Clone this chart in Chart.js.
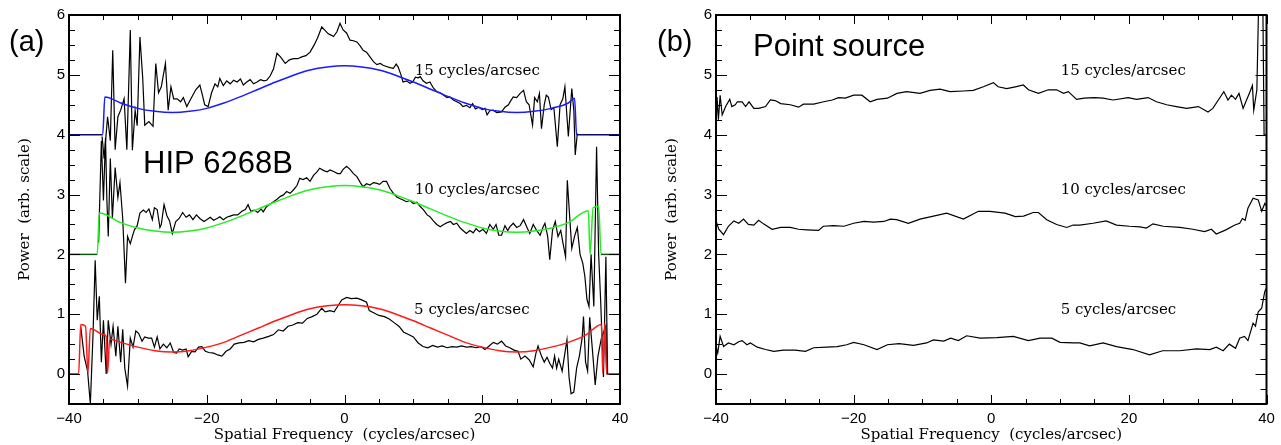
<!DOCTYPE html>
<html>
<head>
<meta charset="utf-8">
<script src="https://cdn.jsdelivr.net/npm/chart.js@4.4.1/dist/chart.umd.min.js"></script>
<style>
  body { margin: 0; background: #fff; }
  #wrap { position: relative; width: 1281px; height: 445px; }
  canvas { position: absolute; top: 0; }
  #chartA { left: 0; }
  #chartB { left: 640px; }
</style>
</head>
<body>
<div id="wrap">
  <canvas id="chartA" width="640" height="445"></canvas>
  <canvas id="chartB" width="641" height="445"></canvas>
</div>
<script>
// axis ticks
const xTickLabels = [-40, -20, 0, 20, 40];
const yTickLabels = [0, 1, 2, 3, 4, 5, 6];

// (a) model curves, freq (cycles/arcsec) and power
const blueFreq = [-40, -35.1, -34.8, -32.5, -30, -27.5, -25, -22.5, -20, -17.5, -15, -12.5, -10, -7.5, -5, -2.5, 0,
  2.5, 5, 7.5, 10, 12.5, 15, 17.5, 20, 22.5, 25, 27.5, 30, 32.5, 33.4, 33.7, 40];
const bluePower = [4, 4, 4.63, 4.53, 4.44, 4.39, 4.37, 4.39, 4.44, 4.53, 4.64, 4.76, 4.88, 4.99, 5.08, 5.13, 5.15,
  5.13, 5.08, 4.99, 4.88, 4.76, 4.64, 4.53, 4.44, 4.39, 4.37, 4.39, 4.44, 4.53, 4.61, 4, 4];

const greenFreq = [-40, -35.9, -35.6, -32.5, -30, -27.5, -25, -22.5, -20, -17.5, -15, -12.5, -10, -7.5, -5, -2.5, 0,
  2.5, 5, 7.5, 10, 12.5, 15, 17.5, 20, 22.5, 25, 27.5, 30, 32.5, 35.4, 35.65, 36.1, 36.9, 37.25, 40];
const greenPower = [2, 2, 2.69, 2.53, 2.44, 2.39, 2.37, 2.39, 2.44, 2.53, 2.64, 2.76, 2.88, 2.99, 3.08, 3.13, 3.15,
  3.13, 3.08, 2.99, 2.88, 2.76, 2.64, 2.53, 2.44, 2.39, 2.37, 2.39, 2.44, 2.53, 2.73, 2.0, 2.78, 2.80, 2.0, 2.0];

const redFreq = [-40, -38.6, -38.3, -37.6, -37.25, -36.9, -35, -34.6, -34.4, -34.1, -32.5, -30, -27.5, -25, -22.5,
  -20, -17.5, -15, -12.5, -10, -7.5, -5, -2.5, 0, 2.5, 5, 7.5, 10, 12.5, 15, 17.5, 20, 22.5, 25, 27.5, 30, 32.5, 35,
  37.3, 37.5, 37.8, 38.05, 40];
const redPower = [0, 0, 0.83, 0.80, 0.02, 0.76, 0.66, 0.63, 0.02, 0.58, 0.53, 0.45, 0.39, 0.37, 0.39,
  0.45, 0.53, 0.65, 0.77, 0.89, 1.0, 1.09, 1.14, 1.16, 1.14, 1.09, 1.0, 0.89, 0.77, 0.65, 0.53, 0.45, 0.39, 0.37, 0.39, 0.45, 0.53, 0.65,
  0.83, 0.02, 0.85, 0.0, 0];

// (a) HIP 6268B measured power, [freq, power]
const hip15 = [[-35.2, 3.97], [-34.9, 3.6], [-34.4, 4.3], [-34.0, 3.9], [-33.65, 5.41], [-33.3, 3.75], [-32.9, 4.3],
  [-32.5, 4.41], [-32.0, 4.6], [-31.6, 3.75], [-31.1, 5.75], [-30.8, 3.74], [-30.4, 4.41], [-30.1, 4.15], [-29.7, 5.63],
  [-29.3, 4.95], [-29.0, 4.16], [-28.4, 4.22], [-27.8, 4.14], [-27.4, 5.19], [-27.0, 4.70], [-26.6, 4.80], [-26.0, 5.19],
  [-25.6, 4.41], [-25.2, 4.80], [-24.8, 4.60], [-24.3, 4.60], [-23.8, 4.55], [-23.4, 4.62], [-22.9, 4.47], [-22.3, 4.60],
  [-21.6, 4.75], [-21.0, 4.83], [-20.6, 4.65], [-20.3, 4.50], [-19.8, 4.47], [-19.3, 4.70], [-18.8, 4.85], [-18.4, 4.80],
  [-18.1, 4.94], [-17.6, 4.82], [-17.1, 4.90], [-16.6, 4.85], [-16.1, 4.91], [-15.6, 4.88], [-15.1, 4.93], [-14.7, 4.83],
  [-14.2, 4.88], [-13.7, 4.92], [-13.2, 4.85], [-12.7, 4.88], [-12.2, 4.92], [-11.7, 4.90], [-11.3, 4.91], [-10.8, 4.98],
  [-10.3, 5.10], [-9.8, 5.36], [-9.3, 5.30], [-8.6, 5.19], [-8.0, 5.25], [-7.4, 5.27], [-6.8, 5.27], [-6.2, 5.30],
  [-5.6, 5.32], [-5.0, 5.38], [-4.4, 5.50], [-3.9, 5.62], [-3.3, 5.80], [-2.9, 5.75], [-2.4, 5.69], [-1.9, 5.66],
  [-1.6, 5.64], [-1.1, 5.72], [-0.65, 5.86], [-0.2, 5.75], [0.3, 5.70], [0.8, 5.58], [1.3, 5.57], [1.8, 5.55],
  [2.3, 5.48], [2.7, 5.41], [3.2, 5.38], [3.7, 5.30], [4.2, 5.22], [4.7, 5.17], [5.2, 5.19], [5.6, 5.16], [6.1, 5.14],
  [6.6, 5.12], [7.1, 5.11], [7.5, 5.18], [7.8, 5.13], [8.2, 5.00], [8.5, 4.88], [9.0, 4.90], [9.5, 4.86], [9.9, 4.88],
  [10.3, 4.96], [10.7, 4.95], [11.0, 4.97], [11.4, 4.90], [11.9, 4.86], [12.4, 4.88], [12.9, 4.78], [13.4, 4.72],
  [13.9, 4.70], [14.4, 4.66], [14.9, 4.62], [15.3, 4.63], [15.8, 4.58], [16.3, 4.55], [16.8, 4.52], [17.2, 4.47],
  [17.7, 4.49], [18.2, 4.45], [18.6, 4.52], [19.0, 4.43], [19.5, 4.46], [20.0, 4.42], [20.4, 4.44], [20.7, 4.33],
  [21.1, 4.40], [21.6, 4.41], [22.1, 4.37], [22.8, 4.38], [23.3, 4.46], [23.8, 4.50], [24.1, 4.56], [24.5, 4.63],
  [25.0, 4.62], [25.5, 4.69], [26.0, 4.74], [26.4, 4.55], [26.8, 4.50], [27.3, 4.16], [27.6, 4.62], [28.0, 4.55],
  [28.3, 4.69], [28.6, 4.10], [29.0, 4.50], [29.3, 4.66], [29.6, 4.63], [30.0, 4.42], [30.4, 4.45], [30.9, 3.80],
  [31.3, 4.50], [31.7, 4.60], [32.0, 4.80], [32.3, 4.30], [32.5, 3.97], [33.0, 4.77], [33.3, 4.40], [33.5, 3.66], [33.8, 4.02]];

const hip10 = [[-35.7, 2.2], [-35.3, 3.9], [-35.0, 2.9], [-34.7, 3.95], [-34.5, 2.9], [-34.3, 2.3], [-34.0, 3.6],
  [-33.7, 2.6], [-33.3, 3.45], [-32.9, 2.95], [-32.6, 3.2], [-32.2, 2.6], [-31.8, 1.52], [-31.5, 2.30], [-31.1, 2.18],
  [-30.8, 2.3], [-30.5, 2.41], [-30.1, 2.48], [-29.7, 2.69], [-29.2, 2.74], [-28.8, 2.70], [-28.4, 2.76], [-27.9, 2.58],
  [-27.6, 2.78], [-27.2, 2.75], [-26.8, 2.45], [-26.6, 2.5], [-26.2, 2.83], [-25.8, 2.65], [-25.4, 2.56], [-25.0, 2.35],
  [-24.5, 2.55], [-24.0, 2.6], [-23.5, 2.70], [-23.0, 2.62], [-22.5, 2.66], [-22.0, 2.58], [-21.5, 2.66], [-21.0, 2.60],
  [-20.4, 2.55], [-20.0, 2.58], [-19.5, 2.62], [-19.0, 2.57], [-18.5, 2.60], [-18.1, 2.63], [-17.6, 2.58], [-17.1, 2.62],
  [-16.6, 2.64], [-16.1, 2.66], [-15.5, 2.66], [-14.9, 2.72], [-14.4, 2.75], [-14.0, 2.83], [-13.6, 2.72], [-13.1, 2.74],
  [-12.6, 2.70], [-12.1, 2.76], [-11.8, 2.71], [-11.3, 2.80], [-10.8, 2.84], [-10.3, 2.88], [-9.8, 2.92], [-9.3, 2.97],
  [-8.9, 2.99], [-8.4, 3.05], [-7.9, 3.02], [-7.4, 3.08], [-6.9, 3.15], [-6.5, 3.27], [-6.0, 3.25], [-5.5, 3.28],
  [-5.0, 3.22], [-4.5, 3.32], [-4.0, 3.38], [-3.6, 3.44], [-3.0, 3.40], [-2.5, 3.38], [-2.1, 3.41], [-1.5, 3.38],
  [-1.0, 3.35], [-0.6, 3.35], [-0.2, 3.42], [0.3, 3.47], [0.8, 3.42], [1.3, 3.35], [1.8, 3.30], [2.3, 3.20], [2.7, 3.13],
  [3.2, 3.18], [3.7, 3.16], [4.2, 3.20], [4.6, 3.19], [5.1, 3.17], [5.6, 3.22], [6.1, 3.22], [6.6, 3.10], [7.1, 3.02],
  [7.6, 2.96], [8.1, 2.93], [8.5, 2.91], [9.0, 2.88], [9.5, 2.90], [10.0, 2.85], [10.5, 2.87], [11.0, 2.80], [11.5, 2.74],
  [12.0, 2.66], [12.4, 2.63], [12.9, 2.56], [13.4, 2.50], [13.9, 2.46], [14.4, 2.50], [14.9, 2.53], [15.4, 2.55],
  [15.8, 2.50], [16.3, 2.52], [16.8, 2.44], [17.2, 2.40], [17.7, 2.35], [18.2, 2.40], [18.7, 2.36], [19.1, 2.43],
  [19.6, 2.38], [20.1, 2.42], [20.6, 2.35], [21.1, 2.50], [21.6, 2.42], [22.0, 2.50], [22.4, 2.32], [22.8, 2.32],
  [23.3, 2.48], [23.7, 2.40], [24.0, 2.46], [24.5, 2.52], [25.0, 2.45], [25.5, 2.48], [26.0, 2.58], [26.5, 2.45],
  [26.9, 2.35], [27.4, 2.50], [27.9, 2.40], [28.4, 2.32], [28.8, 2.45], [29.1, 2.52], [29.5, 2.30], [29.8, 1.91],
  [30.2, 2.40], [30.6, 2.55], [31.0, 2.30], [31.4, 2.40], [31.7, 2.20], [32.1, 1.96], [32.35, 3.24], [32.7, 2.62],
  [33.0, 2.10], [33.4, 2.30], [33.8, 2.45], [34.2, 2.00], [34.6, 1.85], [34.9, 1.63], [35.2, 1.25], [35.5, 1.13],
  [35.8, 2.00], [36.2, 1.13], [36.6, 3.80], [36.9, 2.00], [37.2, 1.2], [37.6, -0.05], [37.95, 1.96], [38.2, 0.0]];

const hip5 = [[-38.3, 0.8], [-37.8, 0.3], [-37.3, 0.05], [-36.9, -0.5], [-36.5, 0.7], [-36.2, 1.9], [-35.9, 0.9],
  [-35.6, 1.3], [-35.3, 0.2], [-35.0, 0.9], [-34.6, 0.0], [-34.3, 0.9], [-33.9, 0.5], [-33.6, 0.8], [-33.2, 0.3],
  [-32.9, 0.8], [-32.5, 0.2], [-32.2, 0.75], [-31.9, 0.1], [-31.5, -0.2], [-31.1, 0.6], [-30.7, 0.45], [-30.3, 0.72],
  [-29.9, 0.68], [-29.4, 0.55], [-29.0, 0.62], [-28.5, 0.6], [-28.0, 0.6], [-27.6, 0.45], [-27.2, 0.62], [-26.8, 0.42],
  [-26.3, 0.5], [-25.8, 0.44], [-25.3, 0.52], [-24.8, 0.36], [-24.4, 0.35], [-24.0, 0.42], [-23.5, 0.40], [-23.0, 0.42],
  [-22.7, 0.29], [-22.2, 0.38], [-21.7, 0.37], [-21.2, 0.45], [-20.7, 0.46], [-20.2, 0.38], [-19.7, 0.36], [-19.0, 0.35],
  [-18.4, 0.32], [-17.8, 0.30], [-17.2, 0.38], [-16.6, 0.42], [-16.0, 0.5], [-15.3, 0.52], [-14.6, 0.53], [-13.9, 0.56],
  [-13.2, 0.54], [-12.5, 0.58], [-11.8, 0.60], [-11.0, 0.63], [-10.3, 0.66], [-9.6, 0.74], [-8.9, 0.72], [-8.2, 0.80],
  [-7.5, 0.82], [-6.8, 0.86], [-6.1, 0.85], [-5.4, 0.93], [-4.7, 0.96], [-4.0, 1.0], [-3.3, 1.10], [-2.8, 1.04],
  [-2.1, 1.06], [-1.5, 1.04], [-0.9, 1.15], [-0.4, 1.24], [0.3, 1.28], [1.0, 1.26], [1.8, 1.27], [2.5, 1.24], [3.2, 1.20],
  [3.6, 1.06], [4.3, 1.02], [5.0, 0.98], [5.8, 0.96], [6.5, 0.92], [7.2, 0.86], [7.9, 0.80], [8.6, 0.70], [9.3, 0.66],
  [10.0, 0.62], [10.7, 0.52], [11.4, 0.46], [12.1, 0.44], [12.8, 0.48], [13.5, 0.45], [14.2, 0.47], [14.9, 0.44],
  [15.6, 0.46], [16.3, 0.45], [17.0, 0.47], [17.7, 0.45], [18.4, 0.46], [19.1, 0.44], [19.8, 0.46], [20.4, 0.41],
  [21.0, 0.47], [21.6, 0.53], [22.2, 0.50], [22.8, 0.55], [23.4, 0.47], [24.0, 0.44], [24.6, 0.40], [25.2, 0.38],
  [25.6, 0.25], [26.2, 0.30], [26.8, 0.24], [27.4, 0.12], [27.8, 0.35], [28.1, 0.47], [28.6, 0.30], [29.0, 0.20],
  [29.4, 0.28], [29.8, 0.18], [30.2, 0.10], [30.5, 0.30], [30.8, 0.10], [31.1, 0.25], [31.6, 0.05], [32.0, 0.35],
  [32.3, 0.57], [32.6, -0.05], [32.9, -0.33], [33.3, -0.30], [33.7, 0.10], [34.1, 0.30], [34.5, 0.6], [34.7, 0.96],
  [35.0, 0.2], [35.3, 0.05], [35.6, 0.95], [36.0, 0.4], [36.4, -0.18], [36.8, 0.3], [37.3, 0.6], [37.95, 0.8], [38.1, 0.0]];

// (b) point source measured power, [freq, power]
const psf15 = [[-40.1, 3.74], [-39.85, 4.63], [-39.65, 4.25], [-39.4, 4.66], [-39.1, 4.33], [-38.6, 4.47], [-38.0, 4.59],
  [-37.7, 4.47], [-37.2, 4.50], [-36.9, 4.55], [-36.2, 4.55], [-35.7, 4.47], [-35.2, 4.55], [-34.5, 4.44], [-33.8, 4.44],
  [-32.8, 4.47], [-32.1, 4.58], [-31.4, 4.57], [-30.6, 4.52], [-29.2, 4.50], [-28.0, 4.46], [-27.3, 4.51], [-25.8, 4.51],
  [-24.35, 4.55], [-23.1, 4.58], [-22.2, 4.62], [-21.2, 4.61], [-20.0, 4.66], [-18.8, 4.66], [-17.6, 4.55], [-16.6, 4.59],
  [-15.1, 4.61], [-13.7, 4.69], [-12.3, 4.72], [-10.35, 4.69], [-8.9, 4.74], [-7.44, 4.76], [-6.0, 4.72], [-4.05, 4.73],
  [-2.6, 4.74], [-1.15, 4.80], [0.31, 4.87], [1.0, 4.80], [2.25, 4.77], [3.5, 4.80], [4.67, 4.83], [5.4, 4.75],
  [6.85, 4.69], [8.3, 4.75], [9.5, 4.75], [10.5, 4.69], [11.2, 4.72], [12.4, 4.59], [13.5, 4.61], [15.0, 4.62],
  [16.25, 4.61], [17.7, 4.58], [19.9, 4.62], [21.1, 4.59], [22.8, 4.62], [24.0, 4.55], [25.5, 4.50], [26.9, 4.47],
  [28.4, 4.44], [30.1, 4.47], [31.5, 4.38], [32.2, 4.44], [33.0, 4.58], [33.8, 4.72], [34.4, 4.58], [34.9, 4.66],
  [35.5, 4.59], [36.0, 4.69], [36.6, 4.44], [37.1, 4.58], [37.5, 4.69], [37.95, 4.82], [38.15, 4.41], [38.6, 4.75],
  [39.0, 7.0], [39.4, 7.0], [39.65, 3.99], [39.9, 4.0]];

const psf10 = [[-40.1, 2.60], [-39.6, 2.42], [-38.9, 2.33], [-38.2, 2.47], [-37.4, 2.56], [-36.7, 2.52], [-36.0, 2.59],
  [-35.3, 2.50], [-34.5, 2.49], [-33.8, 2.57], [-33.1, 2.51], [-31.85, 2.42], [-30.6, 2.45], [-29.2, 2.45], [-28.0, 2.42],
  [-26.8, 2.41], [-25.1, 2.40], [-24.4, 2.47], [-22.9, 2.48], [-21.4, 2.47], [-20.0, 2.52], [-18.5, 2.55], [-17.1, 2.54],
  [-15.6, 2.55], [-14.65, 2.59], [-13.74, 2.58], [-12.05, 2.52], [-10.35, 2.59], [-8.4, 2.64], [-6.47, 2.69], [-4.05, 2.59],
  [-1.87, 2.72], [-0.2, 2.72], [2.0, 2.69], [3.5, 2.63], [4.7, 2.64], [6.1, 2.70], [6.85, 2.70], [8.06, 2.58], [9.5, 2.50],
  [10.97, 2.45], [11.9, 2.49], [12.86, 2.49], [14.8, 2.52], [16.7, 2.56], [18.2, 2.49], [20.1, 2.47], [21.6, 2.46],
  [22.55, 2.44], [23.5, 2.51], [25.0, 2.47], [27.4, 2.45], [29.3, 2.42], [31.0, 2.38], [32.0, 2.42], [32.7, 2.34],
  [34.1, 2.41], [35.4, 2.49], [36.1, 2.52], [36.5, 2.60], [36.9, 2.57], [37.3, 2.77], [38.05, 2.94], [38.8, 2.91],
  [39.3, 2.72], [39.75, 2.85], [40.1, 2.80]];

const psf5 = [[-40.1, 0.52], [-39.75, 0.35], [-39.4, 0.63], [-38.9, 0.46], [-38.2, 0.52], [-37.4, 0.49], [-36.7, 0.54],
  [-36.2, 0.56], [-35.5, 0.49], [-35.0, 0.52], [-34.0, 0.45], [-32.8, 0.41], [-31.6, 0.38], [-30.2, 0.40], [-28.5, 0.40],
  [-27.0, 0.38], [-25.8, 0.44], [-23.9, 0.45], [-22.4, 0.46], [-21.0, 0.49], [-20.0, 0.53], [-18.5, 0.49], [-16.6, 0.41],
  [-15.1, 0.49], [-13.4, 0.51], [-11.3, 0.48], [-9.4, 0.52], [-8.4, 0.57], [-6.9, 0.55], [-5.9, 0.60], [-4.78, 0.56],
  [-3.57, 0.64], [-1.6, 0.60], [0.8, 0.61], [3.2, 0.63], [5.4, 0.56], [7.1, 0.60], [8.8, 0.60], [10.0, 0.53],
  [11.94, 0.52], [12.86, 0.52], [14.3, 0.47], [16.25, 0.52], [18.2, 0.46], [20.6, 0.41], [23.0, 0.32], [24.9, 0.39],
  [27.4, 0.39], [29.8, 0.42], [31.75, 0.41], [32.7, 0.45], [33.7, 0.39], [34.6, 0.50], [35.5, 0.43], [36.1, 0.60],
  [36.8, 0.63], [37.3, 0.56], [38.05, 0.85], [38.4, 0.80], [38.8, 1.04], [39.3, 1.10], [39.75, 1.38], [40.1, 1.46]];

const labelFont = "'Liberation Sans', Arial, sans-serif";
const serifFont = "'DejaVu Serif', serif";

function pairs(list) {
  return list.map(p => ({ x: p[0], y: p[1] }));
}
function zip(xs, ys) {
  return xs.map((x, i) => ({ x: x, y: ys[i] }));
}

function modelSet(xs, ys, color, dark, base) {
  return {
    data: zip(xs, ys),
    borderColor: color,
    borderWidth: 1.5,
    pointRadius: 0,
    cubicInterpolationMode: 'monotone',
    segment: {
      borderColor: c => (c.p0.parsed.y === base && c.p1.parsed.y === base) ? dark : color
    }
  };
}
function dataSet(list) {
  return { data: pairs(list), borderColor: '#000', borderWidth: 1.2, pointRadius: 0, tension: 0 };
}

// box, inward ticks on all four sides
const frameTicks = {
  id: 'frameTicks',
  afterDatasetsDraw(chart) {
    const ctx = chart.ctx;
    const a = chart.chartArea;
    const xs = chart.scales.x, ys = chart.scales.y;
    ctx.save();
    ctx.strokeStyle = '#000';
    ctx.lineWidth = 1;
    ctx.beginPath();
    for (let v = -40; v <= 40; v += 5) {
      const px = Math.round(xs.getPixelForValue(v)) + 0.5;
      const len = v % 20 === 0 ? 9 : 5;
      ctx.moveTo(px, a.bottom); ctx.lineTo(px, a.bottom - len);
      ctx.moveTo(px, a.top); ctx.lineTo(px, a.top + len);
    }
    for (let v = -0.5; v <= 6; v += 0.25) {
      const py = Math.round(ys.getPixelForValue(v)) + 0.5;
      const len = Number.isInteger(v) ? 11 : 6;
      ctx.moveTo(a.left, py); ctx.lineTo(a.left + len, py);
      ctx.moveTo(a.right, py); ctx.lineTo(a.right - len, py);
    }
    ctx.stroke();
    ctx.lineWidth = 2;
    ctx.strokeRect(a.left, a.top, a.right - a.left, a.bottom - a.top);
    ctx.restore();
  }
};

// free text: either in data units (x,y) or canvas pixels (px,py)
const notes = {
  id: 'notes',
  afterDraw(chart, args, opts) {
    const ctx = chart.ctx;
    ctx.save();
    ctx.fillStyle = '#000';
    ctx.textBaseline = 'middle';
    ctx.textAlign = 'left';
    (opts.items || []).forEach(n => {
      const px = n.px !== undefined ? n.px : chart.scales.x.getPixelForValue(n.x);
      const py = n.py !== undefined ? n.py : chart.scales.y.getPixelForValue(n.y);
      ctx.font = n.font;
      ctx.fillText(n.text, px, py);
    });
    ctx.restore();
  }
};

function makeChart(id, datasets, axisW, rightPad, yTitlePad, items) {
  return new Chart(document.getElementById(id), {
    type: 'line',
    data: { datasets: datasets },
    plugins: [frameTicks, notes],
    options: {
      responsive: false,
      animation: false,
      events: [],
      layout: { padding: { left: 0, right: rightPad, top: 15, bottom: 0 } },
      plugins: {
        legend: { display: false },
        tooltip: { enabled: false },
        notes: { items: items }
      },
      scales: {
        x: {
          type: 'linear', min: -40, max: 40,
          afterBuildTicks: s => { s.ticks = xTickLabels.map(v => ({ value: v })); },
          afterFit: s => { s.height = 41; },
          grid: { display: false, drawTicks: false },
          border: { display: false },
          ticks: {
            padding: 6, color: '#000', maxRotation: 0,
            font: { family: labelFont, size: 15 },
            callback: v => String(v).replace('-', '\u2212')
          },
          title: {
            display: true, text: 'Spatial Frequency  (cycles/arcsec)', color: '#000',
            font: { family: serifFont, size: 15 }, padding: { top: 0, bottom: 1 }
          }
        },
        y: {
          type: 'linear', min: -0.5, max: 6,
          afterBuildTicks: s => { s.ticks = yTickLabels.map(v => ({ value: v })); },
          afterFit: s => { s.width = axisW; },
          grid: { display: false, drawTicks: false },
          border: { display: false },
          ticks: {
            padding: 4, color: '#000',
            font: { family: labelFont, size: 15 }
          },
          title: {
            display: true, text: 'Power  (arb. scale)', color: '#000',
            font: { family: serifFont, size: 15 }, padding: { top: yTitlePad, bottom: 0 }
          }
        }
      }
    }
  });
}

const cyc = "15px " + serifFont;

makeChart('chartA', [
  modelSet(blueFreq, bluePower, '#1a1aff', '#0a0a70', 4),
  modelSet(greenFreq, greenPower, '#22ee22', '#0a5a0a', 2),
  modelSet(redFreq, redPower, '#ff1a1a', '#6a0a0a', 0),
  dataSet(hip15), dataSet(hip10), dataSet(hip5)
], 69, 20, 16, [
  { text: '15 cycles/arcsec', x: 10.2, y: 5.07, font: cyc },
  { text: '10 cycles/arcsec', x: 10.2, y: 3.07, font: cyc },
  { text: '5 cycles/arcsec', x: 10.1, y: 1.07, font: cyc },
  { text: '(a)', px: 9, py: 43, font: "29px " + labelFont },
  { text: 'HIP 6268B', px: 143, py: 164, font: "31px " + labelFont }
]);

makeChart('chartB', [
  dataSet(psf15), dataSet(psf10), dataSet(psf5)
], 76, 14.5, 22.7, [
  { text: '15 cycles/arcsec', x: 10.1, y: 5.07, font: cyc },
  { text: '10 cycles/arcsec', x: 10.1, y: 3.07, font: cyc },
  { text: '5 cycles/arcsec', x: 10.1, y: 1.07, font: cyc },
  { text: '(b)', px: 17, py: 43, font: "29px " + labelFont },
  { text: 'Point source', px: 113, py: 47, font: "31px " + labelFont }
]);
</script>
</body>
</html>
